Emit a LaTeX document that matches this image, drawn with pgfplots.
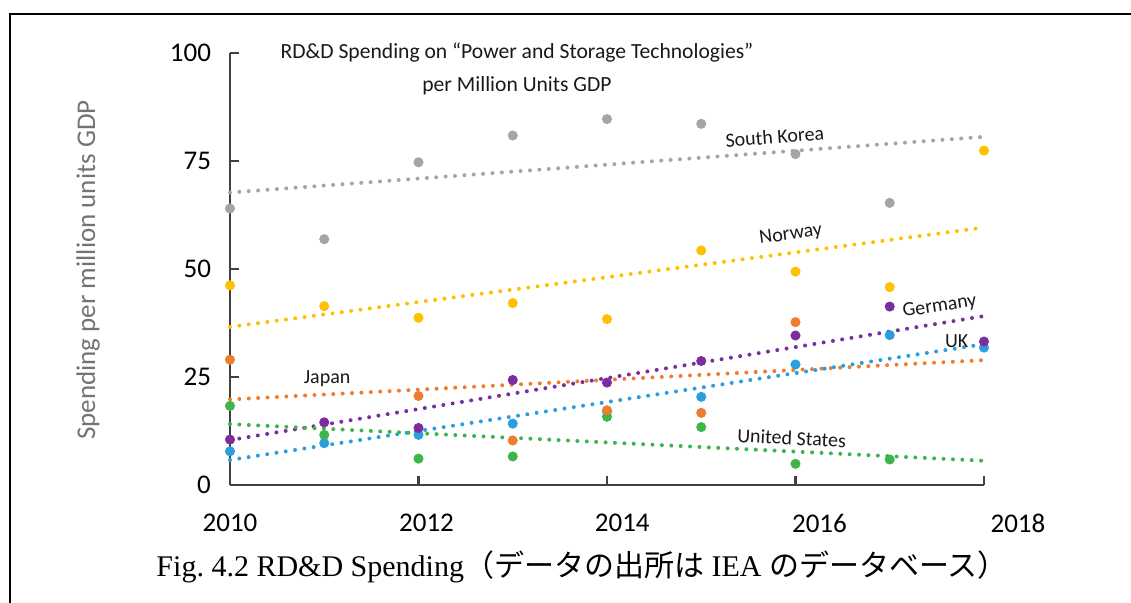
\documentclass[border=0pt]{standalone}
\usepackage{pgfplots}
\pgfplotsset{compat=1.18}
\usepackage{fontspec}
\setmainfont{Carlito}
\newfontfamily\capfont{Liberation Serif}
\newfontfamily\cjk{Noto Sans CJK JP}
\definecolor{cKor}{HTML}{A5A5A5}
\definecolor{cNor}{HTML}{FFC000}
\definecolor{cJap}{HTML}{ED7D31}
\definecolor{cGer}{HTML}{7B2D9E}
\definecolor{cUK}{HTML}{2A9FDB}
\definecolor{cUS}{HTML}{3DB54A}
\definecolor{axc}{HTML}{404040}
\pgfplotsset{
  pts/.style={only marks, mark=*, mark size=2.3pt, mark options={draw=#1, fill=#1}},
  trend/.style={draw=#1, line width=2pt, line cap=round, dash pattern=on 0pt off 4.7pt, no marks},
}
\begin{document}
\begin{tikzpicture}
\useasboundingbox (0,0) rectangle (565.5pt,301.5pt);
\draw[line width=1.1pt, black] (5pt,-2pt) -- (5pt,294.5pt) -- (570pt,294.5pt);
\begin{axis}[
  at={(115pt,59pt)}, anchor=south west,
  scale only axis, width=377pt, height=216pt,
  xmin=2010, xmax=2018, ymin=0, ymax=100,
  axis x line*=bottom, axis y line*=left,
  axis line style={-, axc, line width=1.1pt},
  tick style={axc, line width=1.1pt},
  tick align=inside, major tick length=4.5pt,
  xtick={2010,2012,2014,2016,2018},
  xticklabels={2010,\hspace*{8pt}2012,\hspace*{15.3pt}2014,\hspace*{24pt}2016,\hspace*{34pt}2018},
  ytick={0,25,50,75,100},
  /pgf/number format/assume math mode=true,
  ticklabel style={font=\fontsize{13.5}{15}\selectfont, text=black},
  xticklabel style={yshift=-11pt},
  yticklabel style={xshift=-6pt},
  clip=false,
]
\addplot[trend=cKor] coordinates {(2010,67.7) (2018,80.6)};
\addplot[trend=cNor] coordinates {(2010,36.6) (2018,59.6)};
\addplot[trend=cJap] coordinates {(2010,19.8) (2018,28.9)};
\addplot[trend=cGer] coordinates {(2010,10.4) (2018,39.1)};
\addplot[trend=cUK] coordinates {(2010,5.8) (2018,32.6)};
\addplot[trend=cUS] coordinates {(2010,14.1) (2018,5.6)};

\addplot[pts=cUK] coordinates {(2010,7.8) (2011,9.7) (2012,11.6) (2013,14.2) (2014,17.0) (2015,20.4) (2016,27.9) (2017,34.7) (2018,31.8)};
\addplot[pts=cUS] coordinates {(2010,18.3) (2011,11.6) (2012,6.1) (2013,6.6) (2014,15.8) (2015,13.4) (2016,4.9) (2017,5.9)};
\addplot[pts=cJap] coordinates {(2010,29.0) (2012,20.6) (2013,10.3) (2014,17.3) (2015,16.7) (2016,37.7)};
\addplot[pts=cGer] coordinates {(2010,10.5) (2011,14.5) (2012,13.2) (2013,24.3) (2014,23.7) (2015,28.7) (2016,34.6) (2017,41.3) (2018,33.2)};
\addplot[pts=cNor] coordinates {(2010,46.2) (2011,41.4) (2012,38.7) (2013,42.1) (2014,38.4) (2015,54.3) (2016,49.4) (2017,45.8) (2018,77.4)};
\addplot[pts=cKor] coordinates {(2010,64.0) (2011,56.9) (2012,74.7) (2013,80.9) (2014,84.7) (2015,83.6) (2016,76.6) (2017,65.3)};

\begin{scope}[every node/.style={font=\fontsize{10}{11}\selectfont, text=black!90, inner sep=0pt}]
\node[rotate=4.3] at (axis cs:2015.78,80.6) {South Korea};
\node[rotate=7.5] at (axis cs:2015.95,57.9) {Norway};
\node[rotate=8.5] at (axis cs:2017.53,41.3) {Germany};
\node at (axis cs:2017.71,33.2) {UK};
\node[rotate=-2.8] at (axis cs:2015.96,10.9) {United States};
\node at (axis cs:2011.03,24.7) {Japan};
\end{scope}
\end{axis}
\node[align=center, font=\fontsize{10.8}{16.5}\selectfont, text=black!90] at (258.5pt,267pt)
  {RD\&D Spending on “Power and Storage Technologies”\\per Million Units GDP};
\node[rotate=90, font=\fontsize{13.5}{15}\selectfont, text=black!55] at (44pt,166.5pt)
  {Spending per million units GDP};
\node[font=\fontsize{15}{17}\selectfont] at (291pt,18pt)
  {\capfont Fig.~4.2 RD\&D Spending\cjk（データの出所は\capfont\ IEA \cjk のデータベース）};
\end{tikzpicture}
\end{document}
